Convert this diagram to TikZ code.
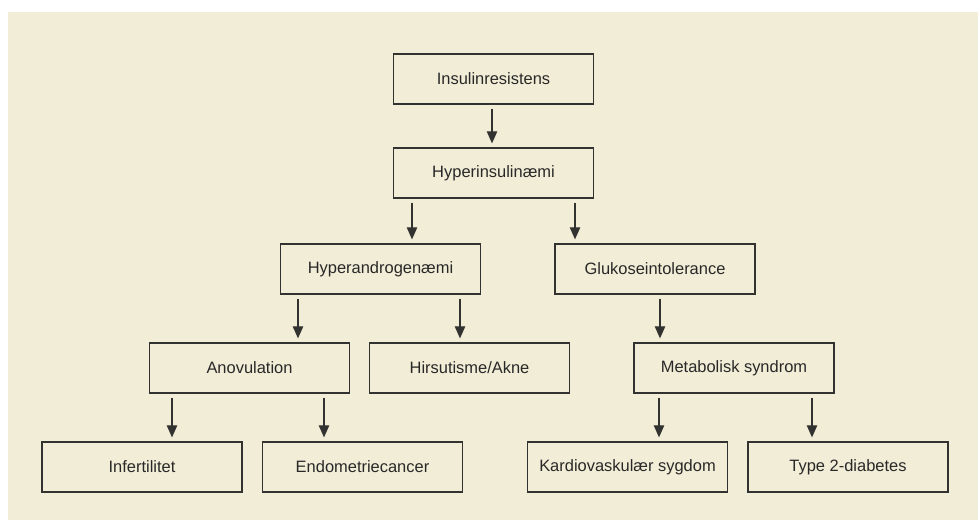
\documentclass[tikz,border=0pt]{standalone}
\usepackage{xcolor}
\usepackage{fontspec}
\setmainfont{Liberation Sans}
\usepackage{tikz}
\usetikzlibrary{arrows.meta}

\definecolor{bgbeige}{RGB}{242,237,214}
\definecolor{linegray}{RGB}{50,50,48}
\definecolor{textgray}{RGB}{40,40,40}

\begin{document}
\begin{tikzpicture}[x=0.025cm,y=-0.025cm,
  box/.style={draw=linegray,line width=0.9pt,shape=rectangle,minimum width=5cm,minimum height=1.25cm,
    inner sep=0pt,text=textgray,font=\fontsize{11.7}{14}\selectfont},
  arr/.style={draw=linegray,line width=0.8pt,-{Triangle[length=3mm,width=2.6mm]},shorten <=4*0.025cm,shorten >=4*0.025cm}]
\useasboundingbox (0,0) rectangle (978,520);
\fill [bgbeige] (8,12) rectangle (978,520);

\node (insulinres) at (493.5,79) [box] {Insulinresistens};
\node (hyperins) at (493.5,173) [box] {Hyperinsulinæmi};

\node (hyperandro) at (380.5,269) [box] {Hyperandrogenæmi};
\node (glukose) at (655,269) [box] {Glukoseintolerance};

\node (anovul) at (249.5,368) [box] {Anovulation};
\node (hirsut) at (469.5,368) [box] {Hirsutisme/Akne};
\node (metabol) at (734,368) [box] {Metabolisk syndrom};

\node (infertil) at (142,467) [box] {Infertilitet};
\node (endomet) at (362.5,467) [box] {Endometriecancer};
\node (kardio) at (627.5,467) [box] {Kardiovaskulær sygdom};
\node (type2) at (848,467) [box] {Type 2-diabetes};

\draw [arr] (insulinres.south -| 492,0) -- (hyperins.north -| 492,0);

\draw [arr] (hyperins.south -| 412,0) -- (hyperandro.north -| 412,0);
\draw [arr] (hyperins.south -| 575,0) -- (glukose.north -| 575,0);

\draw [arr] (hyperandro.south -| 298,0) -- (anovul.north -| 298,0);
\draw [arr] (hyperandro.south -| 460,0) -- (hirsut.north -| 460,0);
\draw [arr] (glukose.south -| 660,0) -- (metabol.north -| 660,0);

\draw [arr] (anovul.south -| 172,0) -- (infertil.north -| 172,0);
\draw [arr] (anovul.south -| 324,0) -- (endomet.north -| 324,0);
\draw [arr] (metabol.south -| 659,0) -- (kardio.north -| 659,0);
\draw [arr] (metabol.south -| 812,0) -- (type2.north -| 812,0);
\end{tikzpicture}
\end{document}
